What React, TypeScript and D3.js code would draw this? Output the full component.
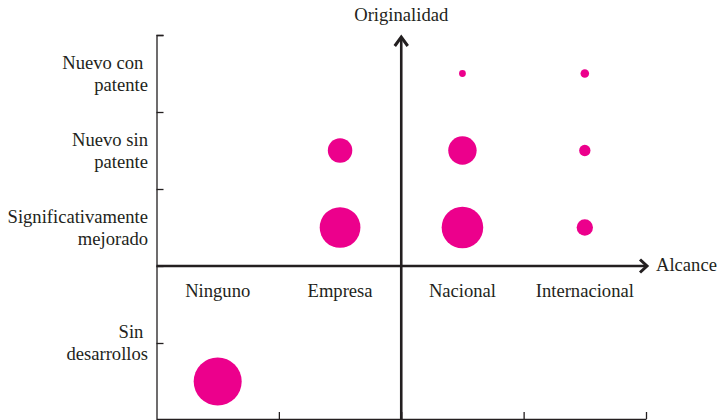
import React, { useEffect, useRef } from "react";
import * as d3 from "d3";

const xCategories = ["Ninguno", "Empresa", "Nacional", "Internacional"];
const yCategories = [
  { lines: ["Sin ", "desarrollos"], pos: 1 },
  { lines: ["Significativamente", "mejorado"], pos: 2.5 },
  { lines: ["Nuevo sin", "patente"], pos: 3.5 },
  { lines: ["Nuevo con ", "patente"], pos: 4.5 },
];
const bubbleX = ["Ninguno", "Empresa", "Empresa", "Nacional", "Nacional", "Nacional", "Internacional", "Internacional", "Internacional"];
const bubbleY = [0.5, 3.5, 2.5, 4.5, 3.5, 2.5, 4.5, 3.5, 2.5];
const bubbleValues = [50, 13, 36, 1, 17.5, 37.5, 1.6, 2.8, 5.8];
const yTicks = [0, 1, 2, 3, 4, 5];
const xTicks = [1, 2, 3, 4];

const W = 717;
const H = 420;
const INK = "#231f20";
const MAGENTA = "#ec008c";
const FONT = "'Liberation Serif', 'Times New Roman', serif";

export default function App() {
  const leftRef = useRef<SVGGElement>(null);
  const bottomRef = useRef<SVGGElement>(null);

  const x = d3.scaleLinear().domain([0, 4]).range([156.5, 646]);
  const y = d3.scaleLinear().domain([0, 5]).range([420, 35]);
  const r = d3.scaleSqrt().domain([0, 50]).range([0, 24]);
  const xc = (c: string) => x(xCategories.indexOf(c) + 0.5);

  useEffect(() => {
    if (leftRef.current) {
      const g = d3.select(leftRef.current);
      g.selectAll("*").remove();
      g.call(
        d3.axisRight(y).tickValues(yTicks).tickSize(7).tickSizeOuter(7).tickFormat(() => "")
      );
      g.selectAll("path,line").attr("stroke", INK).attr("stroke-width", 1.3);
    }
    if (bottomRef.current) {
      const g = d3.select(bottomRef.current);
      g.selectAll("*").remove();
      g.call(
        d3.axisTop(x).tickValues(xTicks).tickSize(7).tickSizeOuter(0).tickFormat(() => "")
      );
      g.selectAll("path,line").attr("stroke", INK).attr("stroke-width", 1.3);
    }
  }, []);

  const x0 = x(0);
  const xMid = x(2);
  const xEnd = x(4);
  const yMid = y(2);

  return (
    <svg
      width={W}
      height={H}
      style={{ position: "absolute", left: 0, top: 0, background: "#fff", fontFamily: FONT, fontSize: "18.6px" }}
    >
      <g ref={leftRef} transform={`translate(${x0},0)`} fill="none" />
      <g ref={bottomRef} transform={`translate(0,419)`} fill="none" />

      {/* main axes */}
      <line x1={x0} x2={xEnd} y1={yMid} y2={yMid} stroke={INK} strokeWidth={2.6} />
      <path
        d={`M${xEnd - 6},${yMid - 6.5}L${xEnd + 1},${yMid}L${xEnd - 6},${yMid + 6.5}`}
        fill="none"
        stroke={INK}
        strokeWidth={3}
      />
      <line x1={xMid} x2={xMid} y1={420} y2={37} stroke={INK} strokeWidth={2.6} />
      <path
        d={`M${xMid - 6.5},${46}L${xMid},${37}L${xMid + 6.5},${46}`}
        fill="none"
        stroke={INK}
        strokeWidth={3}
      />

      {/* axis titles */}
      <text x={xMid} y={21} textAnchor="middle" fill={INK}>Originalidad</text>
      <text x={656} y={271} fill={INK}>Alcance</text>

      {/* x category labels */}
      {xCategories.map((c) => (
        <text key={c} x={xc(c)} y={297} textAnchor="middle" fill={INK}>
          {c}
        </text>
      ))}

      {/* y category labels */}
      {yCategories.map((c, i) => (
        <text key={i} textAnchor="end" fill={INK} style={{ whiteSpace: "pre" }}>
          {c.lines.map((l, j) => (
            <tspan key={j} x={148} y={y(c.pos) - 5 + j * 22.3}>
              {l}
            </tspan>
          ))}
        </text>
      ))}

      {/* bubbles */}
      {bubbleValues.map((v, i) => (
        <circle key={i} cx={xc(bubbleX[i])} cy={y(bubbleY[i])} r={r(v)} fill={MAGENTA} />
      ))}
    </svg>
  );
}
